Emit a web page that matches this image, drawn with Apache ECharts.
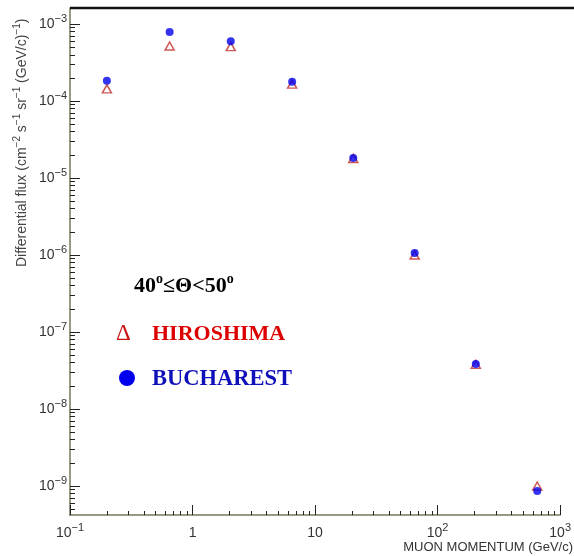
<!DOCTYPE html>
<html><head><meta charset="utf-8">
<script src="https://cdn.jsdelivr.net/npm/echarts@6/dist/echarts.min.js"></script>
<style>html,body{margin:0;padding:0;background:#fff}#c{width:574px;height:556px}</style>
</head><body><div id="c"></div>
<script>
// ---- data ----
const momentum = [0.2, 0.65, 2.05, 6.5, 20.5, 65, 205, 650];
const hiroshimaFlux = [1.44e-4, 5.2e-4, 5.1e-4, 1.66e-4, 1.8e-5, 1.0e-6, 3.8e-8, 1.0e-9];
const bucharestFlux = [1.84e-4, 7.9e-4, 6.0e-4, 1.78e-4, 1.82e-5, 1.06e-6, 3.85e-8, 8.6e-10];
const seriesNames = ['HIROSHIMA', 'BUCHAREST'];
const xTickValues = [0.1, 1, 10, 100, 1000];
const xTickLabels = [['10', '−1'], ['1', ''], ['10', ''], ['10', '2'], ['10', '3']];
const yTickValues = [1e-9, 1e-8, 1e-7, 1e-6, 1e-5, 1e-4, 1e-3];
const yTickLabels = [['10', '−9'], ['10', '−8'], ['10', '−7'], ['10', '−6'], ['10', '−5'], ['10', '−4'], ['10', '−3']];
const minorMantissas = [2, 3, 4, 5, 6, 7, 8, 9];
const xDecades = [0.1, 1, 10, 100];
const yDecades = [1e-10, 1e-9, 1e-8, 1e-7, 1e-6, 1e-5, 1e-4, 1e-3];
const xRange = [0.1, 1000];
const yRange = [4.2e-10, 1.62e-3];
const yTitle = '{a|Differential flux (cm}{s|−2}{a| s}{s|−1}{a| sr}{s|−1}{a| (GeV/c)}{s|−1}{a|)}';
const xTitle = 'MUON MOMENTUM (GeV/c)';
const angleLabel = '{t|40}{o|o}{t|≤Θ<50}{o|o}';

function minorTicks(decades, range) {
  const out = [];
  decades.forEach(d => minorMantissas.forEach(m => {
    const v = +(m * d).toPrecision(6);
    if (v > range[0] && v < range[1]) out.push(v);
  }));
  return out;
}
const xMinor = minorTicks(xDecades, xRange);
const yMinor = minorTicks(yDecades, yRange);

function labelFor(values, labels) {
  return function (v) {
    for (let i = 0; i < values.length; i++) {
      if (Math.abs(Math.log10(v) - Math.log10(values[i])) < 1e-6) {
        const l = labels[i];
        return '{b|' + l[0] + '}' + (l[1] ? '{s|' + l[1] + '}' : '');
      }
    }
    return '';
  };
}
const labelRich = {
  b: { fontSize: 14, fontFamily: 'Liberation Sans', color: '#333', lineHeight: 22 },
  s: { fontSize: 11, fontFamily: 'Liberation Sans', color: '#333', padding: [0, 0, 10, 0] }
};
const axisColor = '#77775c';
const tickColor = '#222';

const chart = echarts.init(document.getElementById('c'), null, { renderer: 'canvas' });
chart.setOption({
  animation: false,
  backgroundColor: '#fff',
  grid: { left: 70, right: 12, top: 8, bottom: 41, containLabel: false },
  xAxis: [
    {
      type: 'log', logBase: 10, min: xRange[0], max: xRange[1], position: 'bottom',
      axisLine: { onZero: false, lineStyle: { color: axisColor, width: 1.5 } },
      axisTick: { inside: true, length: 10, customValues: xTickValues, lineStyle: { color: tickColor } },
      axisLabel: { customValues: xTickValues, formatter: labelFor(xTickValues, xTickLabels), rich: labelRich, margin: 7 },
      splitLine: { show: false }
    },
    {
      type: 'log', logBase: 10, min: xRange[0], max: xRange[1], position: 'bottom',
      axisLine: { show: false, onZero: false },
      axisTick: { inside: true, length: 4, customValues: xMinor, lineStyle: { color: tickColor } },
      axisLabel: { show: false },
      splitLine: { show: false }
    }
  ],
  yAxis: [
    {
      type: 'log', logBase: 10, min: yRange[0], max: yRange[1], position: 'left',
      axisLine: { onZero: false, lineStyle: { color: axisColor, width: 1.5 } },
      axisTick: { inside: true, length: 10, customValues: yTickValues, lineStyle: { color: tickColor } },
      axisLabel: { customValues: yTickValues, formatter: labelFor(yTickValues, yTickLabels), rich: labelRich, margin: 3 },
      splitLine: { show: false }
    },
    {
      type: 'log', logBase: 10, min: yRange[0], max: yRange[1], position: 'left',
      axisLine: { show: false, onZero: false },
      axisTick: { inside: true, length: 5, customValues: yMinor, lineStyle: { color: tickColor } },
      axisLabel: { show: false },
      splitLine: { show: false }
    }
  ],
  series: [
    {
      name: seriesNames[0], type: 'scatter', xAxisIndex: 0, yAxisIndex: 0,
      symbol: 'triangle', symbolSize: [9, 8], z: 2,
      itemStyle: { color: '#fff', borderColor: '#c0302a', borderWidth: 1.5 },
      data: momentum.map((x, i) => [x, hiroshimaFlux[i]])
    },
    {
      name: seriesNames[1], type: 'scatter', xAxisIndex: 0, yAxisIndex: 0,
      symbol: 'circle', symbolSize: 8, z: 3,
      itemStyle: { color: '#0000ee' },
      data: momentum.map((x, i) => [x, bucharestFlux[i]])
    }
  ],
  graphic: [
    { type: 'line', shape: { x1: 70, y1: 8, x2: 574, y2: 8 }, style: { stroke: '#111', lineWidth: 2.5 }, z: 10 },
    {
      type: 'text', x: 22, y: 267, rotation: Math.PI / 2,
      style: {
        text: yTitle, align: 'left', verticalAlign: 'middle',
        rich: {
          a: { fontSize: 14, fontFamily: 'Liberation Sans', fill: '#444', lineHeight: 20 },
          s: { fontSize: 10, fontFamily: 'Liberation Sans', fill: '#444', padding: [0, 0, 9, 0] }
        }
      }
    },
    {
      type: 'text', x: 573, y: 547,
      style: { text: xTitle, align: 'right', verticalAlign: 'middle', fontSize: 13, fontFamily: 'Liberation Sans', fill: '#333' }
    },
    {
      type: 'text', x: 134, y: 286,
      style: {
        text: angleLabel, align: 'left', verticalAlign: 'middle',
        rich: {
          t: { fontSize: 22, fontWeight: 'bold', fontFamily: 'Liberation Serif', fill: '#000', lineHeight: 28 },
          o: { fontSize: 14, fontWeight: 'bold', fontFamily: 'Liberation Serif', fill: '#000', padding: [0, 0, 13, 0] }
        }
      }
    },
    {
      type: 'text', x: 116, y: 334,
      style: { text: 'Δ', align: 'left', verticalAlign: 'middle', fontSize: 23, fontFamily: 'Liberation Serif', fill: '#cc1111' }
    },
    {
      type: 'text', x: 152, y: 334,
      style: { text: seriesNames[0], align: 'left', verticalAlign: 'middle', fontSize: 22, fontWeight: 'bold', fontFamily: 'Liberation Serif', fill: '#dd0000' }
    },
    { type: 'circle', shape: { cx: 127, cy: 378, r: 8 }, style: { fill: '#0000ee' } },
    {
      type: 'text', x: 152, y: 379,
      style: { text: seriesNames[1], align: 'left', verticalAlign: 'middle', fontSize: 22.5, fontWeight: 'bold', fontFamily: 'Liberation Serif', fill: '#1010bb' }
    }
  ]
});
</script>
</body></html>
